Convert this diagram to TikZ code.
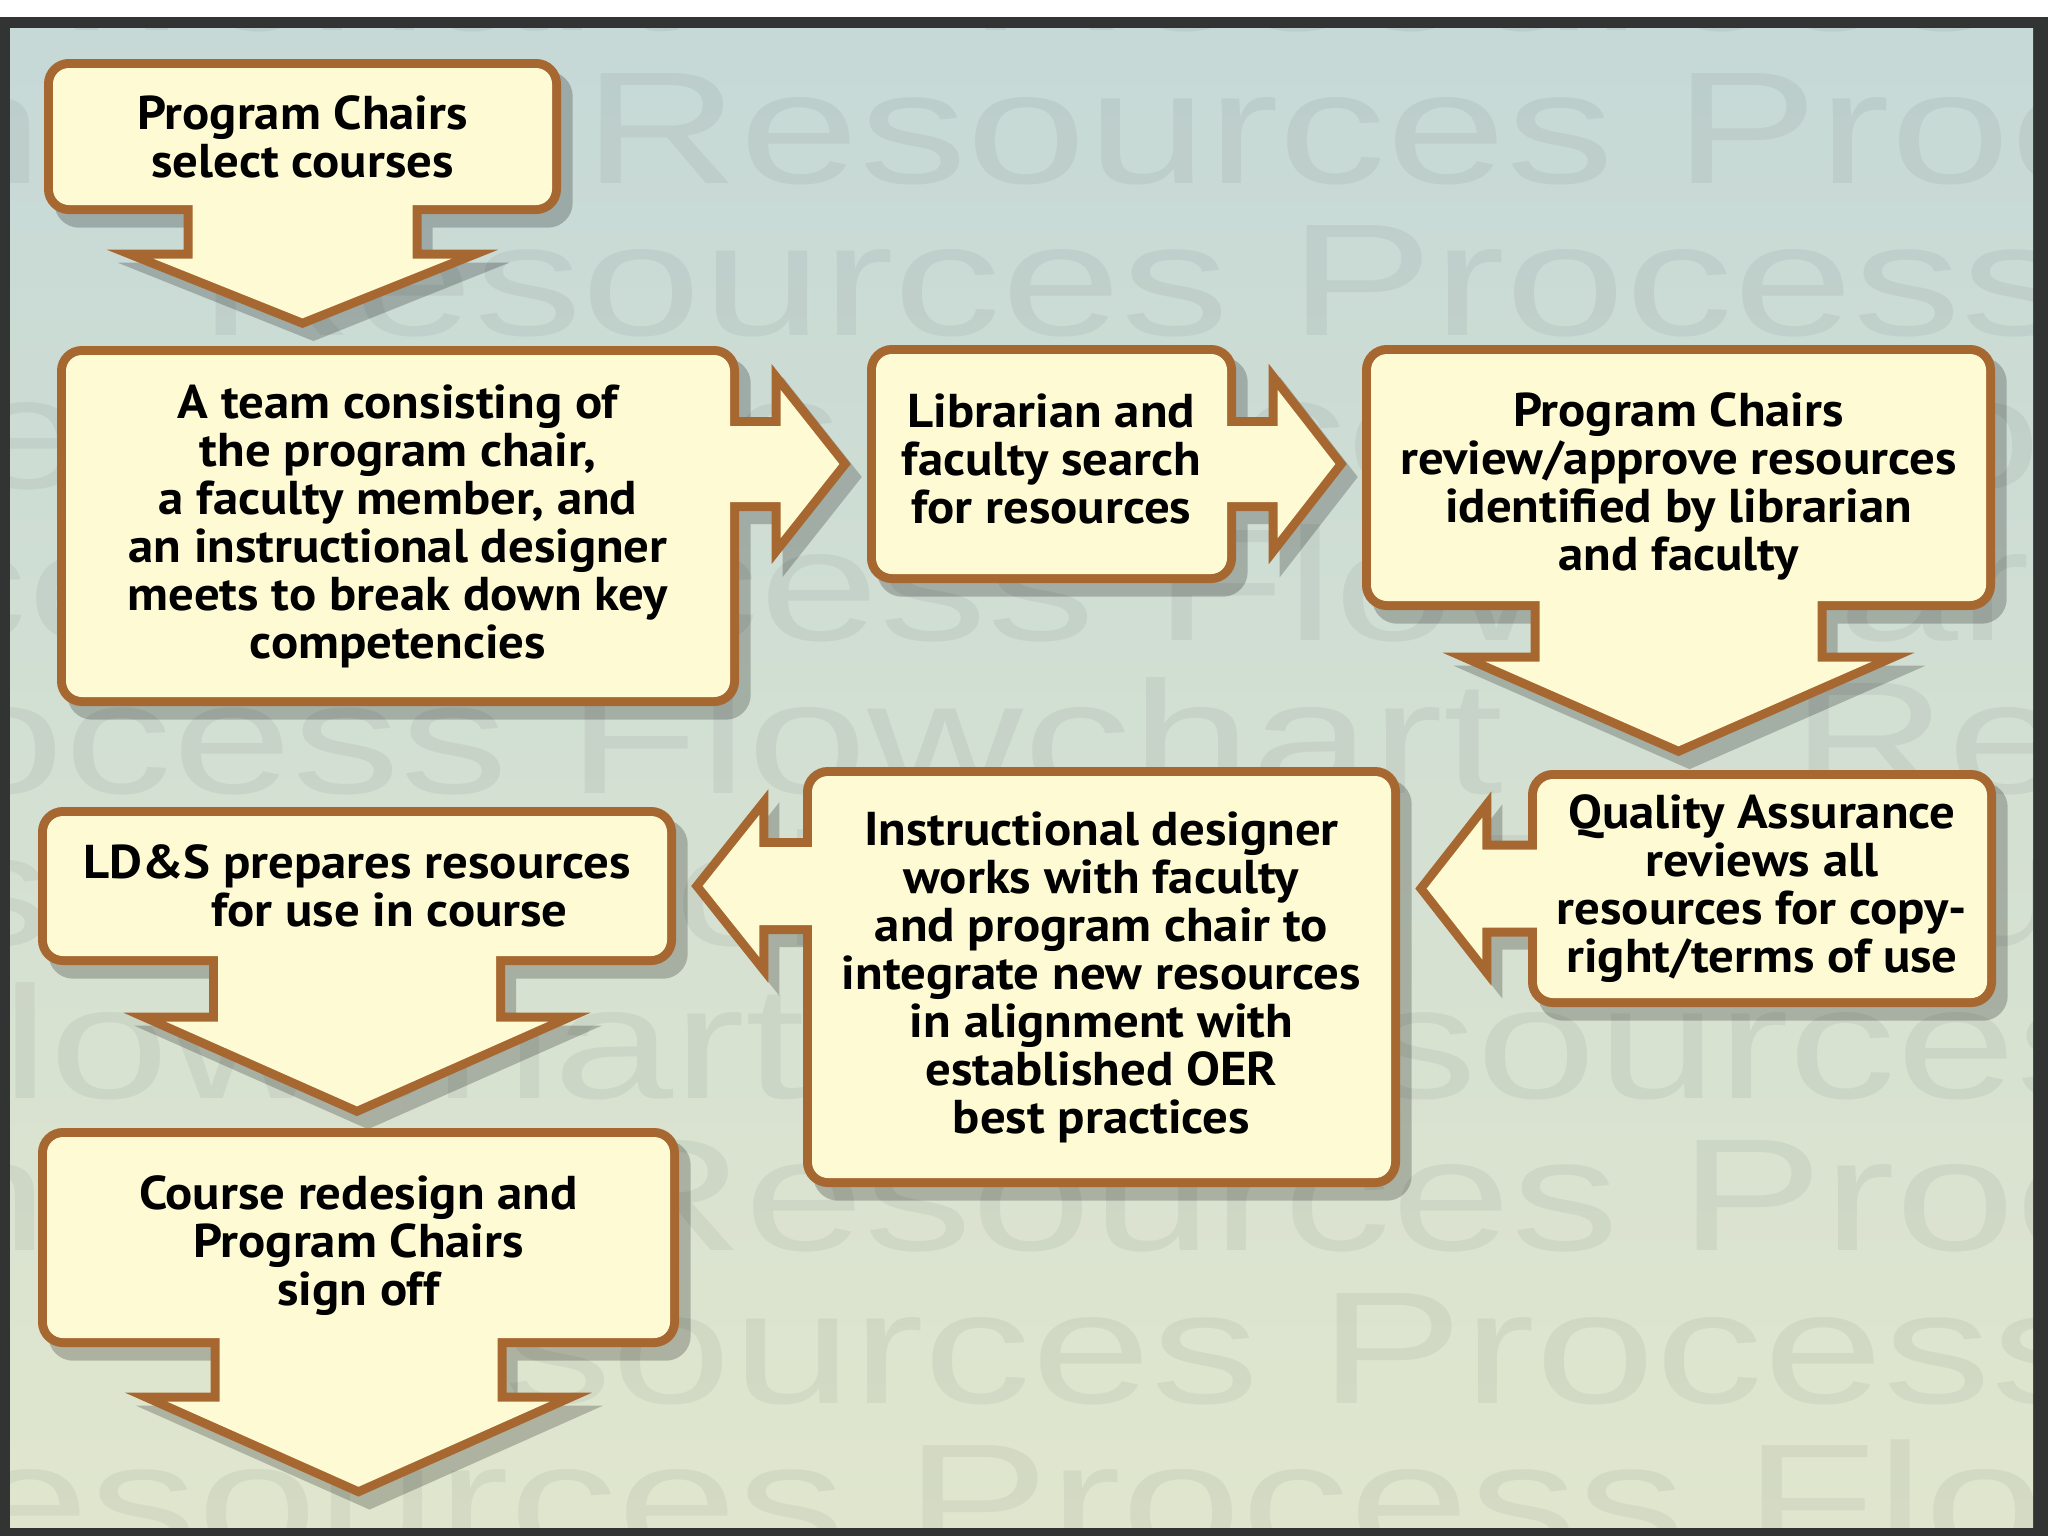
\documentclass[tikz,border=0pt]{standalone}
\usepackage{graphicx}
\usepackage{fontspec}
\setmainfont{PT Sans}[FakeStretch=1.07]
\newfontfamily\markfont{Liberation Sans}
\usetikzlibrary{calc}
\pgfdeclarelayer{back}
\pgfdeclarelayer{mid}
\pgfsetlayers{back,mid,main}

\definecolor{framegray}{RGB}{50,52,52}
\definecolor{skytop}{RGB}{198,217,215}
\definecolor{skybot}{RGB}{224,230,206}
\definecolor{boxline}{RGB}{166,104,48}
\definecolor{boxfill}{RGB}{254,251,212}

\newcommand{\markphrase}{Resources Process Flowchart\hspace{21.3mm}}

\begin{document}
\begin{tikzpicture}[x=0.1mm, y=-0.1mm,
    stepbox/.style={rectangle, rounded corners=1.6mm, fill=boxfill,
      preaction={draw=boxline, line width=1.8mm}, inner sep=0pt, align=center,
      font=\fontsize{13.5pt}{13.66pt}\selectfont\bfseries},
    arrowfill/.style={fill=boxfill},
    arrowline/.style={draw=boxline, line width=1.8mm, line join=miter},
    markrow/.style={anchor=base west, inner sep=0pt, text=black, text opacity=0.05,
      font=\markfont\fontsize{45.5pt}{45.5pt}\selectfont},
    shadowbox/.style={fill=black, rounded corners=2.5mm},
    shadowarrow/.style={fill=black, draw=black, line width=1.8mm, line join=miter,
      transform canvas={shift={(11,13)}}}]

\useasboundingbox (0,0) rectangle (2048,1536);

% frame, background and watermark
\begin{pgfonlayer}{back}
  \fill[white] (0,0) rectangle (2048,1536);
  \fill[framegray] (0,17) rectangle (2048,1536);
  \shade[top color=skytop, bottom color=skybot] (10,28) rectangle (2033,1527);
  \begin{scope}
    \clip (10,28) rectangle (2033,1527);
    \foreach \n/\xr in {0/968, 1/583, 2/198, 3/-190, 4/-777, 5/-1364, 6/-1713, 7/-2062, 8/588, 9/228, 10/-187} {
      \pgfmathsetmacro\xs{mod(\xr+6310,3155)-3155}
      \pgfmathsetmacro\ys{183+152.5*(\n-1)}
      \node[markrow] (mark\n) at (\xs,\ys) {\scalebox{1.35}[1]{\markphrase\markphrase\markphrase}};
    }
  \end{scope}
\end{pgfonlayer}

% steps
\node[stepbox, minimum width=49.9mm, minimum height=13.7mm] (b1) at (302.5,136.5) {Program Chairs\\select courses};
\node[stepbox, minimum width=66.4mm, minimum height=34.2mm] (b2) at (398,526) {A team consisting of\\the program chair,\\a faculty member, and\\an instructional designer\\meets to break down key\\competencies};
\node[stepbox, minimum width=35.1mm, minimum height=22mm] (b3) at (1051.5,464) {Librarian and\\faculty search\\for resources\rule[-1mm]{0pt}{0pt}};
\node[stepbox, minimum width=61.5mm, minimum height=24.7mm] (b4) at (1678.5,477.5) {\rule{0pt}{1.1em}Program Chairs\\review/approve resources\\identified by librarian\\and faculty};
\node[stepbox, minimum width=45mm, minimum height=21.9mm] (b5) at (1762,888.5) {Quality Assurance\\reviews all\\resources for copy-\\right/terms of use};
\node[stepbox, minimum width=57.9mm, minimum height=40.2mm] (b6) at (1101.5,977) {Instructional designer\\works with faculty\\and program chair to\\integrate new resources\\in alignment with\\established OER\\best practices};
\node[stepbox, align=left, minimum width=62mm, minimum height=14mm] (b7) at (357,886) {LD\&S prepares resources\\\hspace*{2.7em}for use in course};
\node[stepbox, minimum width=62.3mm, minimum height=20.1mm] (b8) at (358.5,1237.5) {\rule{0pt}{1.06em}Course redesign and\\Program Chairs\\sign off};

% arrow tips
\coordinate (t1) at ($(b1.south |- b2.north)+(0,-36)$);
\coordinate (t2) at ($(b3.west)+(-36,0)$);
\coordinate (t3) at ($(b4.west |- b3.east)+(-35,0)$);
\coordinate (t4) at ($(b4.south |- b5.north)+(0,-32)$);
\coordinate (t5) at ($(b6.east |- b5.west)+(35,0)$);
\coordinate (t6) at ($(b7.east)+(35,0)$);
\coordinate (t7) at ($(b7.south |- b8.north)+(0,-30)$);
\coordinate (t8) at ($(b8.south)+(0,148)$);

% arrows
\path[arrowfill, shift={(b1.south)}, save path=\patha] (-110,-5) -- (-110,53) -- (-149,53) -- (t1) -- (149,53) -- (110,53) -- (110,-5);
\path[arrowfill, shift={(b2.east |- b3.west)}, save path=\pathb] (-5,-38) -- (50,-38) -- (50,-74) -- (t2) -- (50,74) -- (50,38) -- (-5,38);
\path[arrowfill, shift={(b3.east)}, save path=\pathc] (-5,-38) -- (50,-38) -- (50,-74) -- (t3) -- (50,74) -- (50,38) -- (-5,38);
\path[arrowfill, shift={(b4.south)}, save path=\pathd] (-139,-5) -- (-139,60) -- (-193,60) -- (t4) -- (193,60) -- (139,60) -- (139,-5);
\path[arrowfill, shift={(b5.west)}, save path=\pathe] (5,-39) -- (-54,-39) -- (-54,-71) -- (t5) -- (-54,71) -- (-54,39) -- (5,39);
\path[arrowfill, shift={(b6.west |- b7.east)}, save path=\pathf] (5,-39) -- (-52,-39) -- (-52,-71) -- (t6) -- (-52,71) -- (-52,39) -- (5,39);
\path[arrowfill, shift={(b7.south)}, save path=\pathg] (-139,-5) -- (-139,65) -- (-191,65) -- (t7) -- (191,65) -- (139,65) -- (139,-5);
\path[arrowfill, shift={(b8.south)}, save path=\pathh] (-139,-5) -- (-139,63) -- (-191,63) -- (t8) -- (191,63) -- (139,63) -- (139,-5);

% arrow outlines under the boxes
\begin{pgfonlayer}{mid}
  \path[arrowline, use path=\patha];
  \path[arrowline, use path=\pathb];
  \path[arrowline, use path=\pathc];
  \path[arrowline, use path=\pathd];
  \path[arrowline, use path=\pathe];
  \path[arrowline, use path=\pathf];
  \path[arrowline, use path=\pathg];
  \path[arrowline, use path=\pathh];
\end{pgfonlayer}

% shadows
\begin{pgfonlayer}{back}
  \begin{scope}[transparency group, opacity=0.22]
    \foreach \b in {b1,b2,b3,b4,b5,b6,b7,b8}
      \fill[shadowbox] ([shift={(2,4)}]\b.north west) rectangle ([shift={(20,22)}]\b.south east);
    \path[shadowarrow, use path=\patha];
    \path[shadowarrow, use path=\pathb];
    \path[shadowarrow, use path=\pathc];
    \path[shadowarrow, use path=\pathd];
    \path[shadowarrow, use path=\pathe];
    \path[shadowarrow, use path=\pathf];
    \path[shadowarrow, use path=\pathg];
    \path[shadowarrow, use path=\pathh];
  \end{scope}
\end{pgfonlayer}

\end{tikzpicture}
\end{document}
